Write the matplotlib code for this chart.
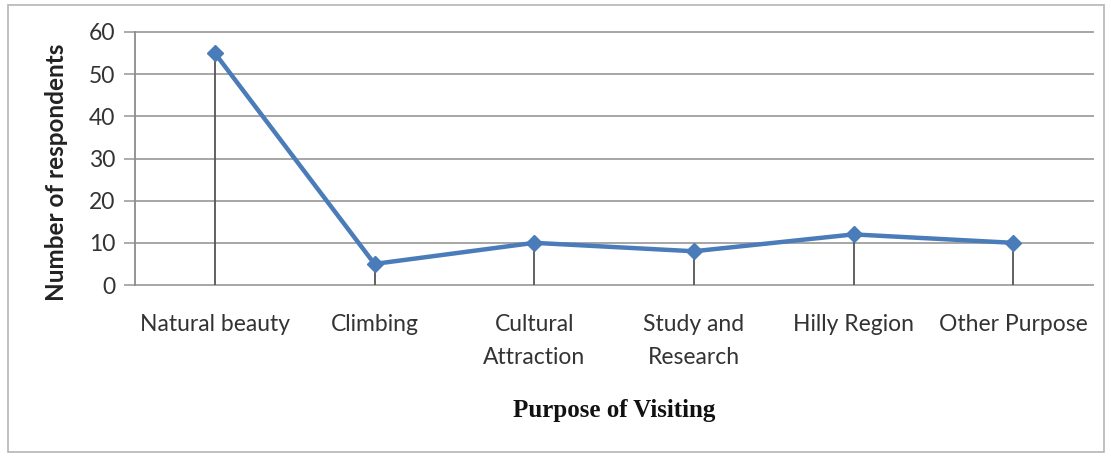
import matplotlib
matplotlib.use("Agg")
import matplotlib.pyplot as plt
from matplotlib.patches import Rectangle

categories = ["Natural beauty", "Climbing", "Cultural\nAttraction",
              "Study and\nResearch", "Hilly Region", "Other Purpose"]
respondents = [55, 5, 10, 8, 12, 10]
y_ticks = [0, 10, 20, 30, 40, 50, 60]

W, H = 1111, 457
fig = plt.figure(figsize=(W / 100, H / 100), dpi=100)
fig.patch.set_facecolor("white")

# outer chart frame
fig.patches.append(Rectangle((8 / W, 5 / H), (1104 - 8) / W, (452 - 5) / H,
                             transform=fig.transFigure, fill=False,
                             edgecolor="#b5b5b5", linewidth=1.2))

left, right, top, bottom = 135, 1093, 32, 285
ax = fig.add_axes([left / W, 1 - bottom / H, (right - left) / W, (bottom - top) / H])

x = list(range(len(categories)))
ax.set_xlim(-0.5, len(categories) - 0.5)
ax.set_ylim(0, 60)

# horizontal gridlines
for t in y_ticks:
    ax.axhline(t, color="#a6a6a6", linewidth=1.4, zorder=1, clip_on=False)

# drop lines from each point to the axis
ax.vlines(x, 0, respondents, color="#555555", linewidth=1.3, zorder=2)

ax.plot(x, respondents, color="#4a7cba", linewidth=3.2, marker="D",
        markersize=8, markerfacecolor="#4a7cba", markeredgecolor="#4a7cba",
        zorder=3)

for s in ["top", "right", "bottom"]:
    ax.spines[s].set_visible(False)
ax.spines["left"].set_color("#8c8c8c")
ax.spines["left"].set_linewidth(1.3)

tick_font = "Lato"
ax.set_yticks(y_ticks)
ax.set_yticklabels([str(t) for t in y_ticks], fontsize=16.5, family=tick_font,
                   color="#333333")
ax.tick_params(axis="y", length=8, color="#a6a6a6", width=1.3, pad=6)
ax.set_xticks(x)
ax.set_xticklabels(categories, fontsize=16.5, family=tick_font, color="#333333",
                   linespacing=1.7, va="top")
ax.tick_params(axis="x", length=0, pad=21)

fig.text(57 / W, 1 - 172 / H, "Number of respondents", rotation=90,
         ha="center", va="center", fontsize=17.5, fontweight="bold",
         family=tick_font, color="#222222")
fig.text(614 / W, 1 - 411 / H, "Purpose of Visiting", ha="center", va="center",
         fontsize=18, fontweight="bold", family="Liberation Serif",
         color="#111111")

fig.savefig("out.png", dpi=100, facecolor="white")
